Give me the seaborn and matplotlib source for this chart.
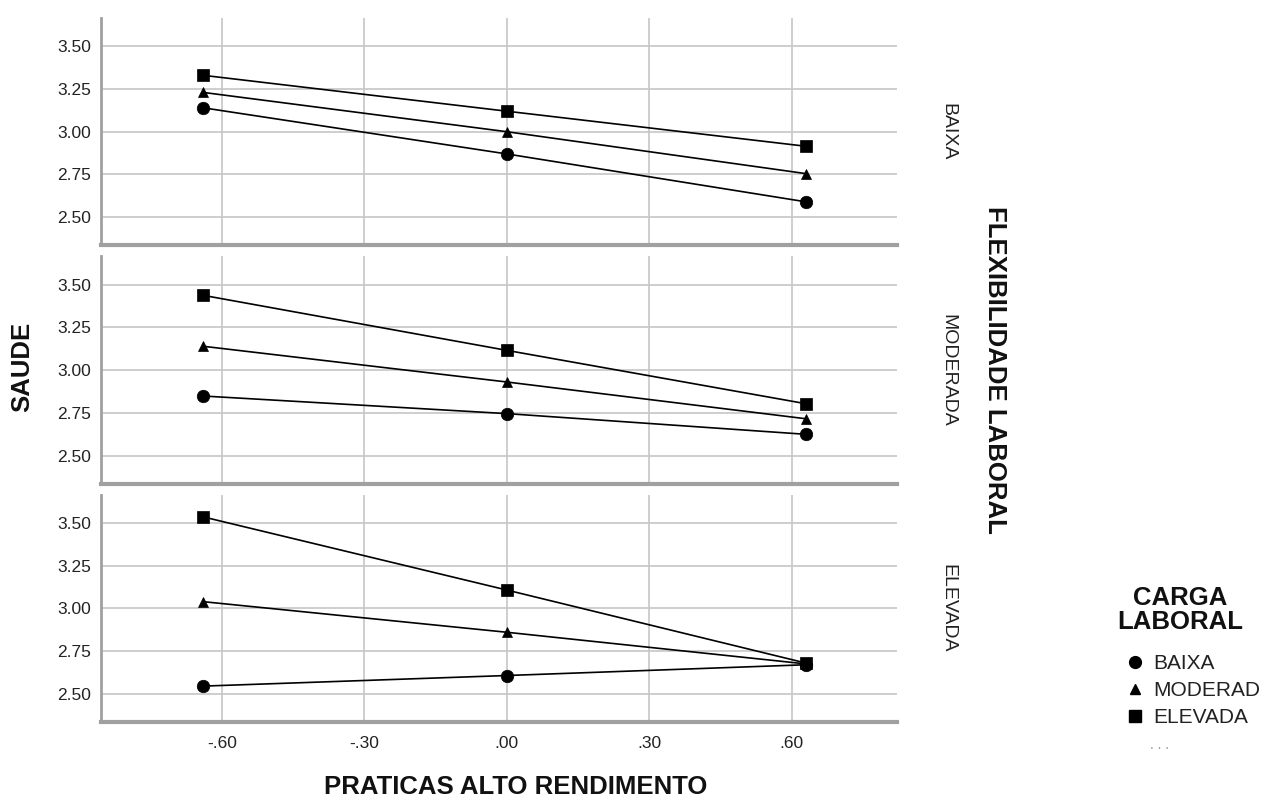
import matplotlib
matplotlib.use("Agg")
import matplotlib.pyplot as plt
import seaborn as sns
import pandas as pd
from matplotlib.lines import Line2D

# ---- data ----
x_levels = [-0.64, 0.0, 0.63]
flex_levels = ["BAIXA", "MODERADA", "ELEVADA"]
carga_levels = ["BAIXA", "MODERAD", "ELEVADA"]

# SAUDE values, per FLEXIBILIDADE LABORAL panel, per CARGA LABORAL series
flex_baixa_carga_baixa = [3.14, 2.87, 2.59]
flex_baixa_carga_moderad = [3.23, 3.00, 2.755]
flex_baixa_carga_elevada = [3.33, 3.12, 2.915]

flex_moderada_carga_baixa = [2.848, 2.745, 2.624]
flex_moderada_carga_moderad = [3.139, 2.93, 2.715]
flex_moderada_carga_elevada = [3.437, 3.115, 2.803]

flex_elevada_carga_baixa = [2.545, 2.607, 2.67]
flex_elevada_carga_moderad = [3.039, 2.86, 2.675]
flex_elevada_carga_elevada = [3.535, 3.107, 2.68]

x_ticks = [-0.6, -0.3, 0.0, 0.3, 0.6]
x_ticklabels = ["-.60", "-.30", ".00", ".30", ".60"]
y_ticks = [2.50, 2.75, 3.00, 3.25, 3.50]
y_ticklabels = ["2.50", "2.75", "3.00", "3.25", "3.50"]

series = {
    "BAIXA": [flex_baixa_carga_baixa, flex_baixa_carga_moderad, flex_baixa_carga_elevada],
    "MODERADA": [flex_moderada_carga_baixa, flex_moderada_carga_moderad, flex_moderada_carga_elevada],
    "ELEVADA": [flex_elevada_carga_baixa, flex_elevada_carga_moderad, flex_elevada_carga_elevada],
}
rows = []
for flex in flex_levels:
    for carga, vals in zip(carga_levels, series[flex]):
        for xv, yv in zip(x_levels, vals):
            rows.append({"flex": flex, "carga": carga, "x": xv, "saude": yv})
df = pd.DataFrame(rows)

# ---- style ----
sns.set_style("white")
plt.rcParams["font.family"] = ["Liberation Sans", "DejaVu Sans"]

markers = {"BAIXA": "o", "MODERAD": "^", "ELEVADA": "s"}
msizes = {"o": 9, "^": 7, "s": 9}
grid_col = "#c6c6c6"
spine_col = "#a0a0a0"

fig, axes = plt.subplots(3, 1, figsize=(12.71, 8.01), dpi=100, sharex=True)
fig.subplots_adjust(left=0.0795, right=0.7057, top=0.9775, bottom=0.0986, hspace=0.048)

for ax, flex in zip(axes, flex_levels):
    sub = df[df["flex"] == flex]
    sns.lineplot(data=sub, x="x", y="saude", hue="carga", style="carga",
                 hue_order=carga_levels, style_order=carga_levels,
                 palette=["black"] * 3, markers=markers, dashes=False,
                 linewidth=1.2, markersize=9, markeredgecolor="black",
                 markeredgewidth=0.5, legend=False, ax=ax, zorder=3)
    for ln in ax.lines:
        m = ln.get_marker()
        if m in msizes:
            ln.set_markersize(msizes[m])
    ax.set_xlim(-0.855, 0.822)
    ax.set_ylim(2.335, 3.665)
    ax.set_xticks(x_ticks)
    ax.set_yticks(y_ticks)
    ax.set_yticklabels(y_ticklabels, fontsize=12.5, color="#222222")
    ax.grid(True, color=grid_col, linewidth=1.2)
    ax.set_axisbelow(True)
    for s in ["top", "right"]:
        ax.spines[s].set_visible(False)
    ax.spines["left"].set_color(spine_col)
    ax.spines["left"].set_linewidth(2)
    ax.spines["bottom"].set_color(spine_col)
    ax.spines["bottom"].set_linewidth(3)
    ax.tick_params(axis="both", length=0, pad=7)
    ax.set_xlabel("")
    ax.set_ylabel("")
    ax.text(1.064, 0.5, flex, transform=ax.transAxes, rotation=270,
            ha="center", va="center", fontsize=14, color="#222222")

axes[-1].set_xticklabels(x_ticklabels, fontsize=12.5, color="#222222")
axes[-1].tick_params(axis="x", pad=10)
for ax in axes[:-1]:
    ax.tick_params(axis="x", labelbottom=False)

fig.text(516 / 1271, 1 - 787 / 801, "PRATICAS ALTO RENDIMENTO", ha="center", va="center",
         fontsize=18.5, fontweight="bold", color="#111111")
fig.text(22 / 1271, 1 - 367 / 801, "SAUDE", ha="center", va="center", rotation=90,
         fontsize=18.5, fontweight="bold", color="#111111")
fig.text(995 / 1271, 1 - 370 / 801, "FLEXIBILIDADE LABORAL", ha="center", va="center",
         rotation=270, fontsize=18.5, fontweight="bold", color="#111111")

# legend title
fig.text(1180 / 1271, 1 - 610 / 801, "CARGA\nLABORAL", ha="center", va="center",
         fontsize=18.5, fontweight="bold", color="#111111", linespacing=1.0,
         multialignment="center")

handles = [Line2D([], [], linestyle="none", marker=markers[c], color="black",
                  markersize={"o": 8.5, "^": 7, "s": 8.5}[markers[c]]) for c in carga_levels]
leg = fig.legend(handles, carga_levels, loc="upper left",
                 bbox_to_anchor=(1128 / 1271, 1 - 654 / 801), frameon=False,
                 fontsize=15, handlelength=0.7, handletextpad=0.5, labelspacing=0.38,
                 borderaxespad=0, borderpad=0)
for t in leg.get_texts():
    t.set_color("#222222")
fig.text(1160 / 1271, 1 - 745 / 801, ". . .", ha="center", va="center",
         fontsize=10, color="#999999")

fig.savefig("out.png", dpi=100)
